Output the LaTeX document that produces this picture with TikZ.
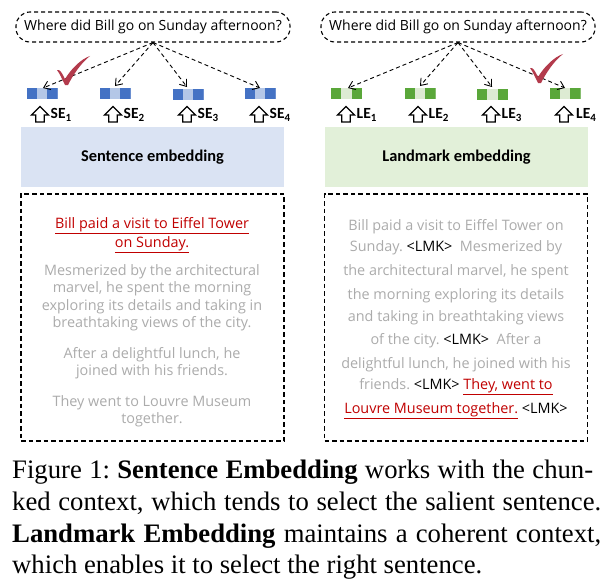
\documentclass[tikz,border=0pt]{standalone}
\usepackage{fontspec}
\setmainfont{Liberation Serif}
\newfontfamily\handfont{Open Sans}
\newfontfamily\calfont{Carlito}
\usetikzlibrary{arrows.meta}
\definecolor{sedark}{HTML}{4472C4}
\definecolor{selight}{HTML}{B4C7E7}
\definecolor{ledark}{HTML}{5AA73A}
\definecolor{lelight}{HTML}{DDEBD3}
\definecolor{sefill}{HTML}{DAE3F3}
\definecolor{lefill}{HTML}{E2F0D9}
\definecolor{txtgray}{HTML}{ABABAB}
\definecolor{hlred}{HTML}{C00000}
\definecolor{checkred}{HTML}{B33B4C}
\newcommand{\lmk}{\textcolor{black}{<LMK>}}
\newcommand{\redul}[1]{\textcolor{hlred}{\underline{#1}}}
\frenchspacing
\begin{document}
\begin{tikzpicture}[x=1pt,y=-1pt,
  bubble/.style={draw, line width=1.1pt, dash pattern=on 4pt off 3pt, rounded corners=14pt,
    minimum width=274pt, minimum height=30pt, inner sep=0pt, font=\handfont\fontsize{14}{14}\selectfont},
  conn/.style={draw, line width=0.9pt, dash pattern=on 4pt off 3pt, -{Straight Barb[length=6pt,width=9pt,line width=0.9pt]}},
  blk/.style 2 args={minimum width=31pt, minimum height=11pt, inner sep=0pt, fill=#2,
    path picture={
      \fill[#1] (path picture bounding box.south west) rectangle ([xshift=10.4pt]path picture bounding box.north west);
      \fill[#1] (path picture bounding box.north east) rectangle ([xshift=-10.4pt]path picture bounding box.south east);}},
  lab/.style={anchor=west, inner sep=0pt, font=\calfont\bfseries\fontsize{15.5}{16}\selectfont},
  embbox/.style={minimum width=263pt, minimum height=60pt, inner sep=0pt, font=\calfont\bfseries\fontsize{16.4}{17}\selectfont},
  ctxbox/.style={draw, line width=1.2pt, dash pattern=on 4.5pt off 3pt, minimum width=263pt, minimum height=247pt, inner sep=0pt},
  ln/.style={anchor=base, inner sep=0pt, text=txtgray, font=\handfont\fontsize{14.4}{15}\selectfont},
  captxt/.style={anchor=base west, inner sep=0pt, font=\fontsize{26.7}{27}\selectfont},
  uparrow/.pic={\draw[line width=1.3pt, line join=miter] (-8.5,0) -- (0,-8.5) -- (8.5,0) -- (4.2,0) -- (4.2,7) -- (-4.2,7) -- (-4.2,0) -- cycle;},
  check/.pic={\fill[checkred] (-10,-15) .. controls (-7,-16) and (-5,-12) .. (-2,-6) .. controls (4,-16) and (14,-26) .. (23,-29) .. controls (14,-22) and (6,-10) .. (1,0) -- (-2,0) .. controls (-5,-6) and (-7,-11) .. (-10,-15) -- cycle;}
]
\useasboundingbox (0,0) rectangle (610,586);
\clip (0,0) rectangle (610,586);

% ---------- left panel ----------
\node[bubble] (qL) at (153,27) {Where did Bill go on Sunday afternoon?};
\node[blk={sedark}{selight}] (se1) at (42,93) {};
\node[blk={sedark}{selight}] (se2) at (115,93) {};
\node[blk={sedark}{selight}] (se3) at (188,94) {};
\node[blk={sedark}{selight}] (se4) at (260,93) {};
\coordinate (tse1) at (43,88);
\coordinate (tse2) at (115,86);
\coordinate (tse3) at (187,87);
\coordinate (tse4) at (260,88);
\foreach \i in {1,2,3,4} \draw[conn] (qL.south) -- (tse\i);
\pic at (67,85) {check};
\foreach \i/\x in {1/40,2/113,3/187,4/259} {
  \pic at (\x,115) {uparrow};
  \node[lab] (sel\i) at (\x+10.5,115) {SE\raisebox{-2.5pt}{\fontsize{11}{11}\selectfont\i}};
}
\node[embbox, fill=sefill] (seb) at (152.5,157) {Sentence embedding};
\node[ctxbox] (ctxL) at (152.5,317.5) {};
\node[ln] (l1) at (152,228) {\redul{Bill paid a visit to Eiffel Tower}};
\node[ln] (l2) at (152,247) {\redul{on Sunday.}};
\node[ln] (l3) at (152,275) {Mesmerized by the architectural};
\node[ln] (l4) at (152,292.5) {marvel, he spent the morning};
\node[ln] (l5) at (152,310) {exploring its details and taking in};
\node[ln] (l6) at (152,327) {breathtaking views of the city.};
\node[ln] (l7) at (152,358) {After a delightful lunch, he};
\node[ln] (l8) at (152,375.5) {joined with his friends.};
\node[ln] (l9) at (152,406) {They went to Louvre Museum};
\node[ln] (l10) at (152,423) {together.};

% ---------- right panel ----------
\node[bubble] (qR) at (458,27) {Where did Bill go on Sunday afternoon?};
\node[blk={ledark}{lelight}] (le1) at (346.5,93) {};
\node[blk={ledark}{lelight}] (le2) at (420,93) {};
\node[blk={ledark}{lelight}] (le3) at (492.5,94) {};
\node[blk={ledark}{lelight}] (le4) at (565,93) {};
\coordinate (tle1) at (348,88);
\coordinate (tle2) at (420,86);
\coordinate (tle3) at (492,87);
\coordinate (tle4) at (565,88);
\foreach \i in {1,2,3,4} \draw[conn] (qR.south) -- (tle\i);
\pic at (540,83) {check};
\foreach \i/\x in {1/346,2/418,3/491} {
  \pic at (\x,115) {uparrow};
  \node[lab] (lel\i) at (\x+10.5,115) {LE\raisebox{-2.5pt}{\fontsize{11}{11}\selectfont\i}};
}
\pic at (564,115) {uparrow};
\begin{scope}
  \clip (560,100) rectangle (596.5,130);
  \node[lab] (lel4) at (576,115) {LE\raisebox{-2.5pt}{\fontsize{11}{11}\selectfont 4}};
\end{scope}
\node[embbox, fill=lefill] (leb) at (456.5,157) {Landmark embedding};
\node[ctxbox] (ctxR) at (456,317.5) {};
\node[ln] (r1) at (456,230) {Bill paid a visit to Eiffel Tower on};
\node[ln] (r2) at (456,251) {Sunday. \lmk\ \ Mesmerized by};
\node[ln] (r3) at (456,275) {the architectural marvel, he spent};
\node[ln] (r4) at (456,299) {the morning exploring its details};
\node[ln] (r5) at (456,321) {and taking in breathtaking views};
\node[ln] (r6) at (456,344) {of the city. \lmk\ \ After a};
\node[ln] (r7) at (456,368) {delightful lunch, he joined with his};
\node[ln] (r8) at (456,389) {friends. \lmk\ \redul{They, went to}};
\node[ln] (r9) at (456,413) {\redul{Louvre Museum together.} \lmk};

% ---------- caption ----------
\node[captxt] (c1) at (12,478) {\makebox[581pt][s]{Figure 1: \textbf{Sentence Embedding} works with the chun-}};
\node[captxt] (c2) at (12,510) {\makebox[589pt][s]{ked context, which tends to select the salient sentence.}};
\node[captxt] (c3) at (12,542) {\makebox[589pt][s]{\textbf{Landmark Embedding} maintains a coherent context,}};
\node[captxt] (c4) at (12,573) {which enables it to select the right sentence.};
\end{tikzpicture}
\end{document}
